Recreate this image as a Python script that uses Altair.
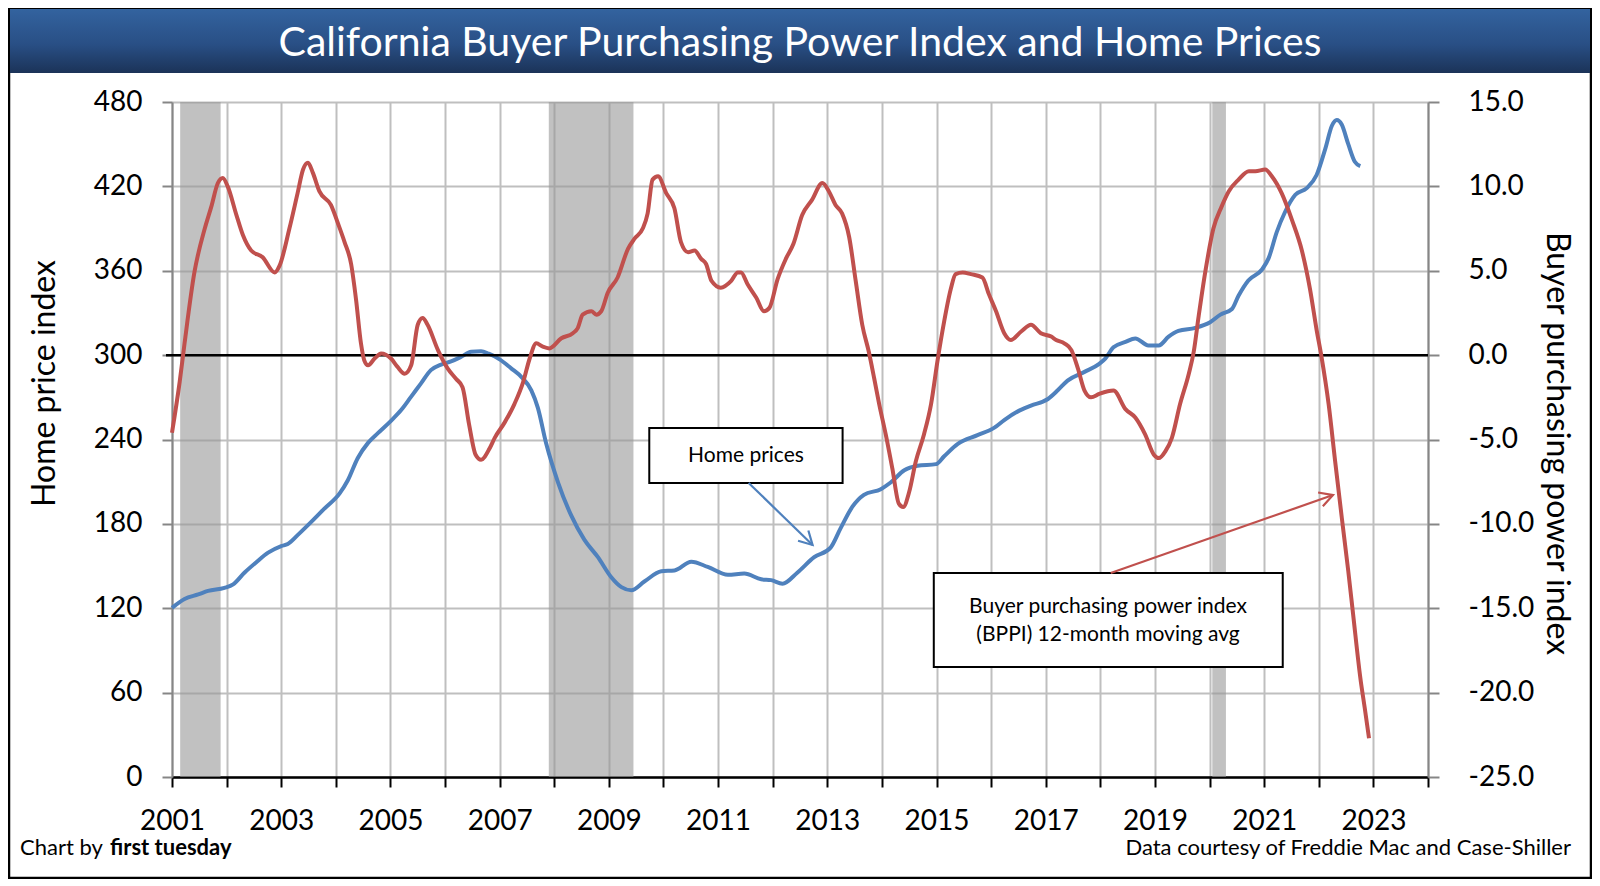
import altair as alt
import pandas as pd

# ---------------- data ----------------
hp_year = [2001.0, 2001.23, 2001.48, 2001.66, 2001.96, 2002.12, 2002.33, 2002.54, 2002.76, 2003.0,
           2003.12, 2003.3, 2003.55, 2003.79, 2004.07, 2004.22, 2004.4, 2004.59, 2004.77, 2005.01,
           2005.2, 2005.38, 2005.56, 2005.74, 2005.93, 2006.11, 2006.29, 2006.48, 2006.66, 2006.8,
           2007.0, 2007.21, 2007.4, 2007.58, 2007.7, 2007.85, 2008.07, 2008.31, 2008.55, 2008.8,
           2009.04, 2009.23, 2009.41, 2009.65, 2009.96, 2010.2, 2010.51, 2010.81, 2011.18, 2011.48,
           2011.79, 2011.97, 2012.18, 2012.45, 2012.76, 2013.06, 2013.24, 2013.46, 2013.67, 2013.98,
           2014.16, 2014.41, 2014.65, 2014.99, 2015.14, 2015.39, 2015.75, 2016.06, 2016.24, 2016.49,
           2016.73, 2017.04, 2017.22, 2017.4, 2017.71, 2017.98, 2018.09, 2018.24, 2018.46, 2018.64,
           2018.88, 2019.07, 2019.25, 2019.43, 2019.74, 2020.01, 2020.2, 2020.41, 2020.53, 2020.71,
           2020.96, 2021.08, 2021.23, 2021.38, 2021.57, 2021.78, 2021.96, 2022.12, 2022.24, 2022.33,
           2022.42, 2022.54, 2022.66, 2022.76]
hp_value = [120.3, 126.6, 129.8, 132.3, 134.5, 137.0, 145.4, 152.6, 159.5, 164.2,
            165.7, 172.0, 181.4, 190.8, 201.7, 211.0, 226.7, 237.6, 244.5, 253.3,
            261.1, 270.5, 279.9, 289.3, 293.3, 295.5, 298.7, 302.4, 302.7, 301.0,
            297.0, 290.6, 284.4, 275.0, 262.5, 237.5, 209.4, 186.0, 168.8, 156.3,
            142.2, 135.0, 132.8, 139.0, 146.3, 146.9, 153.1, 149.4, 143.8, 144.7,
            140.6, 140.0, 137.5, 145.3, 156.3, 163.1, 176.6, 192.2, 200.6, 204.7,
            209.4, 218.1, 221.3, 222.5, 228.1, 236.9, 243.1, 248.4, 253.8, 260.0,
            264.1, 268.8, 275.0, 281.9, 288.1, 293.8, 297.5, 305.6, 309.4, 311.9,
            306.9, 306.9, 313.1, 317.2, 319.4, 323.4, 328.8, 332.8, 342.2, 353.1,
            360.9, 368.8, 387.5, 401.6, 414.0, 418.8, 428.1, 446.9, 463.1, 467.2,
            464.0, 450.0, 437.5, 434.4]

bppi_year = [2001.0, 2001.14, 2001.23, 2001.41, 2001.6, 2001.72, 2001.84, 2001.93, 2002.02, 2002.18,
             2002.3, 2002.45, 2002.66, 2002.88, 2002.97, 2003.15, 2003.3, 2003.4, 2003.49, 2003.58,
             2003.7, 2003.91, 2004.04, 2004.16, 2004.28, 2004.37, 2004.46, 2004.52, 2004.59, 2004.71,
             2004.83, 2005.01, 2005.13, 2005.26, 2005.38, 2005.5, 2005.59, 2005.68, 2005.87, 2006.05,
             2006.2, 2006.32, 2006.44, 2006.56, 2006.66, 2006.82, 2006.91, 2007.09, 2007.27, 2007.43,
             2007.55, 2007.67, 2007.79, 2007.91, 2008.13, 2008.34, 2008.43, 2008.52, 2008.68, 2008.77,
             2008.86, 2008.98, 2009.16, 2009.35, 2009.47, 2009.62, 2009.71, 2009.8, 2009.9, 2010.05,
             2010.2, 2010.32, 2010.45, 2010.57, 2010.69, 2010.78, 2010.88, 2011.05, 2011.24, 2011.36,
             2011.42, 2011.54, 2011.7, 2011.84, 2011.94, 2012.09, 2012.24, 2012.38, 2012.54, 2012.72,
             2012.91, 2013.03, 2013.15, 2013.27, 2013.4, 2013.52, 2013.64, 2013.76, 2013.86, 2013.95,
             2014.07, 2014.19, 2014.31, 2014.39, 2014.5, 2014.62, 2014.77, 2014.9, 2015.02, 2015.14,
             2015.26, 2015.35, 2015.48, 2015.63, 2015.84, 2015.96, 2016.09, 2016.24, 2016.36, 2016.55,
             2016.73, 2016.91, 2017.1, 2017.19, 2017.34, 2017.47, 2017.59, 2017.71, 2017.83, 2017.98,
             2018.24, 2018.46, 2018.64, 2018.82, 2018.98, 2019.07, 2019.19, 2019.31, 2019.46, 2019.62,
             2019.71, 2019.8, 2019.92, 2020.07, 2020.22, 2020.35, 2020.53, 2020.72, 2020.84, 2021.02,
             2021.14, 2021.32, 2021.51, 2021.69, 2021.84, 2021.96, 2022.05, 2022.18, 2022.3, 2022.42,
             2022.54, 2022.63, 2022.76, 2022.85, 2022.92]
bppi_value = [-4.6, -1.6, 0.7, 4.9, 7.5, 8.8, 10.2, 10.5, 10.0, 8.3,
              7.1, 6.2, 5.8, 4.9, 5.3, 7.5, 9.6, 11.0, 11.4, 10.8,
              9.7, 8.9, 7.8, 6.7, 5.4, 3.3, 0.7, -0.3, -0.6, -0.2,
              0.1, -0.2, -0.7, -1.1, -0.6, 1.8, 2.2, 1.8, 0.3, -0.8,
              -1.4, -1.9, -4.1, -5.9, -6.2, -5.5, -4.9, -4.0, -2.9, -1.6,
              -0.2, 0.7, 0.5, 0.4, 1.0, 1.3, 1.6, 2.4, 2.6, 2.4,
              2.6, 3.7, 4.6, 6.3, 6.9, 7.5, 8.4, 10.4, 10.6, 9.6,
              8.7, 6.7, 6.1, 6.2, 5.7, 5.4, 4.4, 4.0, 4.4, 4.9,
              4.9, 4.2, 3.4, 2.6, 2.8, 4.5, 5.7, 6.6, 8.3, 9.2,
              10.2, 9.7, 8.9, 8.4, 7.0, 4.4, 1.8, 0.2, -1.4, -2.9,
              -4.7, -6.7, -8.8, -9.0, -8.1, -6.3, -4.7, -2.9, -0.3, 2.0,
              3.9, 4.8, 4.9, 4.8, 4.6, 3.6, 2.6, 1.3, 0.9, 1.4,
              1.8, 1.3, 1.1, 0.9, 0.7, 0.3, -0.8, -2.1, -2.5, -2.3,
              -2.1, -3.2, -3.7, -4.7, -5.9, -6.1, -5.7, -4.9, -2.9, -1.1,
              0.2, 2.3, 4.9, 7.5, 8.8, 9.7, 10.4, 10.9, 10.9, 11.0,
              10.6, 9.6, 8.0, 6.2, 3.9, 1.5, -0.1, -2.9, -6.3, -9.6,
              -12.8, -15.4, -19.1, -21.1, -22.7]

recession_start = [2001.15, 2007.9, 2020.05]
recession_end = [2001.89, 2009.45, 2020.3]

x_tick_years = list(range(2001, 2025))
left_ticks = [0, 60, 120, 180, 240, 300, 360, 420, 480]
right_ticks = [-25, -20, -15, -10, -5, 0, 5, 10, 15]

title_text = "California Buyer Purchasing Power Index and Home Prices"
left_title = "Home price index"
right_title = "Buyer purchasing power index"
credit_left = "Chart by "
credit_left_bold = "first tuesday"
credit_right = "Data courtesy of Freddie Mac and Case-Shiller"

# annotation boxes (data units: year / home price index scale)
box_x1 = [2009.74, 2014.95]
box_x2 = [2013.28, 2021.34]
box_y1 = [209.1, 78.2]
box_y2 = [248.2, 145.1]
label_x = [2011.51, 2018.14, 2018.14]
label_y = [228.6, 120.9, 101.0]
label_text = ["Home prices", "Buyer purchasing power index", "(BPPI) 12-month moving avg"]
arrow_x1 = [2011.56, 2018.19]
arrow_y1 = [209.1, 145.1]
arrow_x2 = [2012.73, 2022.26]
arrow_y2 = [165.0, 200.5]
arrow_color = ["#4F81BD", "#C0504D"]
arrow_angle = [135, 71]

# ---------------- layout ----------------
W, H = 1256, 675
FONT = "Lato"
BLUE = "#4F81BD"
RED = "#C0504D"
GRID = "#BFBFBF"
AXGREY = "#868686"

hp = pd.DataFrame({"year": hp_year, "hpi": hp_value})
bp = pd.DataFrame({"year": bppi_year, "bppi": bppi_value})
rec = pd.DataFrame({"start": recession_start, "end": recession_end})
boxes = pd.DataFrame({"x1": box_x1, "x2": box_x2, "y1": box_y1, "y2": box_y2})
labels = pd.DataFrame({"x": label_x, "y": label_y, "t": label_text})
arrows = pd.DataFrame({"x1": arrow_x1, "y1": arrow_y1, "x2": arrow_x2, "y2": arrow_y2,
                       "c": arrow_color, "a": arrow_angle})
zero = pd.DataFrame({"z": [0]})
one = pd.DataFrame({"k": [0]})

xs = alt.Scale(domain=[2001, 2024], nice=False, zero=False)
ls = alt.Scale(domain=[0, 480], nice=False, zero=False)
rs = alt.Scale(domain=[-25, 15], nice=False, zero=False)

x_axis = alt.Axis(values=x_tick_years,
                  labelExpr="datum.value % 2 == 1 ? format(datum.value, 'd') : ''",
                  labelOverlap=False, labelFlush=False,
                  grid=True, gridColor=GRID, gridWidth=2,
                  tickColor="black", tickSize=10, tickWidth=2,
                  domainColor="black", domainWidth=2.5,
                  labelFontSize=28, labelPadding=20, labelColor="black",
                  labelFont=FONT, title="")

left_axis = alt.Axis(values=left_ticks, grid=True, gridColor=GRID, gridWidth=2,
                     tickColor=AXGREY, tickSize=10, tickWidth=2,
                     domainColor=AXGREY, domainWidth=2,
                     labelFontSize=28, labelPadding=20, labelColor="black", labelFont=FONT,
                     title=left_title, titleFontSize=32, titleFontWeight="normal",
                     titleFont=FONT, titleColor="black", titleAngle=270,
                     titleX=-128, titleY=281, titleAlign="center", titleBaseline="middle")

right_axis = alt.Axis(values=right_ticks, grid=False, orient="right",
                      labelExpr="replace(format(datum.value, '.1f'), '\u2212', '-')",
                      tickColor=AXGREY, tickSize=11, tickWidth=2,
                      domainColor=AXGREY, domainWidth=2,
                      labelFontSize=28, labelPadding=29, labelColor="black", labelFont=FONT,
                      title=right_title, titleFontSize=32, titleFontWeight="normal",
                      titleFont=FONT, titleColor="black", titleAngle=90,
                      titleX=128, titleY=341, titleAlign="center", titleBaseline="middle")

# decorations outside the plot area
frame = alt.Chart(one).mark_rect(fillOpacity=0, stroke="black", strokeWidth=2.5).encode(
    x=alt.value(-163), x2=alt.value(1419), y=alt.value(-93), y2=alt.value(776))

banner = alt.Chart(one).mark_rect(
    fill=alt.LinearGradient(gradient="linear",
                            stops=[alt.GradientStop(color="#33639f", offset=0),
                                   alt.GradientStop(color="#294f85", offset=0.55),
                                   alt.GradientStop(color="#1b3358", offset=1)],
                            x1=0, x2=0, y1=0, y2=1)
).encode(x=alt.value(-162), x2=alt.value(1418), y=alt.value(-93), y2=alt.value(-29))

title = alt.Chart(one).mark_text(text=title_text, font=FONT, fontSize=41, color="white",
                                 align="center", baseline="alphabetic").encode(
    x=alt.value(628), y=alt.value(-46))

credit1 = alt.Chart(one).mark_text(text=credit_left, font=FONT, fontSize=22, color="black",
                                   align="left", baseline="alphabetic").encode(
    x=alt.value(-152), y=alt.value(753))
credit2 = alt.Chart(one).mark_text(text=credit_left_bold, font=FONT, fontSize=22, fontWeight="bold",
                                   color="black", align="left", baseline="alphabetic").encode(
    x=alt.value(-62), y=alt.value(753))
credit3 = alt.Chart(one).mark_text(text=credit_right, font=FONT, fontSize=22, color="black",
                                   align="right", baseline="alphabetic").encode(
    x=alt.value(1399), y=alt.value(753))

recess = alt.Chart(rec).mark_rect(color="#979797", opacity=0.6).encode(
    x=alt.X("start:Q", scale=xs, axis=x_axis), x2="end:Q",
    y=alt.value(0), y2=alt.value(H))

blue_line = alt.Chart(hp).mark_line(color=BLUE, strokeWidth=4, interpolate="monotone").encode(
    x=alt.X("year:Q", scale=xs, axis=x_axis),
    y=alt.Y("hpi:Q", scale=ls, axis=left_axis))

box_marks = alt.Chart(boxes).mark_rect(fill="white", stroke="black", strokeWidth=2).encode(
    x=alt.X("x1:Q", scale=xs, axis=x_axis), x2="x2:Q",
    y=alt.Y("y1:Q", scale=ls, axis=left_axis), y2="y2:Q")

label_marks = alt.Chart(labels).mark_text(font=FONT, fontSize=21, color="black",
                                          align="center", baseline="middle").encode(
    x=alt.X("x:Q", scale=xs, axis=x_axis),
    y=alt.Y("y:Q", scale=ls, axis=left_axis),
    text="t:N")

arrow_lines = alt.Chart(arrows).mark_rule(strokeWidth=2.2).encode(
    x=alt.X("x1:Q", scale=xs, axis=x_axis), x2="x2:Q",
    y=alt.Y("y1:Q", scale=ls, axis=left_axis), y2="y2:Q",
    color=alt.Color("c:N", scale=None))

arrow_heads = alt.Chart(arrows).mark_point(shape="M -0.55 1 L 0 0 L 0.55 1", filled=False,
                                           strokeWidth=2.2, size=700, opacity=1).encode(
    x=alt.X("x2:Q", scale=xs, axis=x_axis),
    y=alt.Y("y2:Q", scale=ls, axis=left_axis),
    angle=alt.Angle("a:Q", scale=None),
    color=alt.Color("c:N", scale=None))

left_group = alt.layer(frame, banner, title, credit1, credit2, credit3,
                       recess, blue_line, box_marks, label_marks, arrow_lines, arrow_heads)

zero_rule = alt.Chart(zero).mark_rule(color="black", strokeWidth=2.5).encode(
    y=alt.Y("z:Q", scale=rs, axis=right_axis), x=alt.value(-6), x2=alt.value(W))

red_line = alt.Chart(bp).mark_line(color=RED, strokeWidth=4, interpolate="monotone").encode(
    x=alt.X("year:Q", scale=xs, axis=x_axis),
    y=alt.Y("bppi:Q", scale=rs, axis=right_axis))

right_group = alt.layer(zero_rule, red_line)

chart = alt.layer(left_group, right_group).resolve_scale(y="independent").resolve_axis(
    y="independent"
).properties(
    width=W, height=H,
    padding={"left": 164, "top": 94, "right": 164, "bottom": 102},
    autosize=alt.AutoSizeParams(type="none"),
    background="white",
).configure_view(stroke=None)

chart.save("out.html", embed_options={"renderer": "svg", "actions": False})
